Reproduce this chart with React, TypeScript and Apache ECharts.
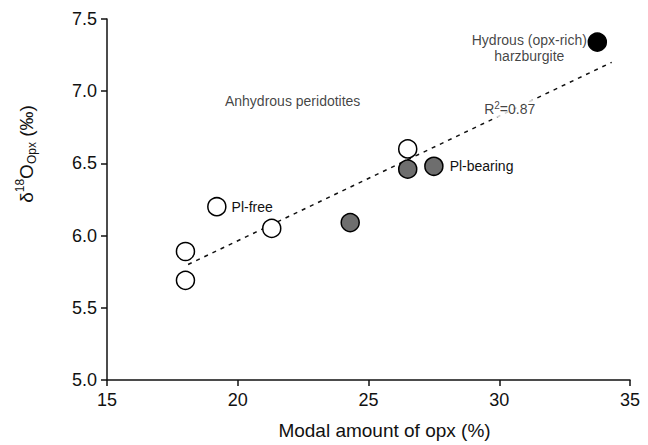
import React, { useEffect, useRef } from "react";
import * as echarts from "echarts";

const plFree: number[][] = [[18, 5.69], [18, 5.89], [19.2, 6.2], [21.3, 6.05], [26.5, 6.6]];
const plBearing: number[][] = [[24.3, 6.09], [26.5, 6.46], [27.5, 6.48]];
const hydrous: number[][] = [[33.75, 7.34]];
const trend: number[][] = [[18.1, 5.8], [34.3, 7.2]];
const notes = [
  { name: "Anhydrous peridotites", value: [22.1, 6.93] },
  { name: "R{sup|2}=0.87", value: [30.4, 6.88], masked: true },
  { name: "Hydrous (opx-rich)\nharzburgite", value: [31.15, 7.3] },
];
const xRange = { min: 15, max: 35, interval: 5 };
const yRange = { min: 5, max: 7.5, interval: 0.5 };
const yTitle = "δ{sup|18}O{sub|Opx} (‰)";

const FONT = "'Liberation Sans', Arial, sans-serif";

export default function App() {
  const ref = useRef<HTMLDivElement>(null);
  useEffect(() => {
    if (!ref.current) return;
    const chart = echarts.init(ref.current, null, { renderer: "svg" });
    const circle = (fill: string) => ({
      color: fill,
      borderColor: "#000",
      borderWidth: 1.5,
      opacity: 1,
    });
    chart.setOption({
      animation: false,
      textStyle: { fontFamily: FONT, color: "#111" },
      grid: { left: 99, right: 18, top: 11, bottom: 60 },
      graphic: [
        {
          type: "text",
          x: 18,
          y: 146,
          rotation: Math.PI / 2,
          style: {
            text: yTitle,
            fill: "#111",
            font: `19px ${FONT}`,
            align: "center",
            verticalAlign: "middle",
            lineHeight: 24,
            rich: {
              sup: { fontSize: 12, verticalAlign: "top", lineHeight: 24, fontFamily: FONT, fill: "#111" },
              sub: { fontSize: 12, verticalAlign: "bottom", lineHeight: 24, fontFamily: FONT, fill: "#111" },
            },
          },
        },
      ],
      xAxis: {
        type: "value",
        ...xRange,
        name: "Modal amount of opx (%)",
        nameLocation: "middle",
        nameGap: 41,
        nameTextStyle: { fontSize: 19, color: "#111", fontFamily: FONT, padding: [0, 0, 0, 32] },
        axisLine: { show: true, onZero: false, lineStyle: { color: "#111", width: 1.5 } },
        axisTick: { show: true, length: 6, lineStyle: { color: "#111", width: 1.5 } },
        axisLabel: { fontSize: 18, color: "#111", margin: 11, fontFamily: FONT },
        splitLine: { show: false },
      },
      yAxis: {
        type: "value",
        ...yRange,
        axisLine: { show: true, onZero: false, lineStyle: { color: "#111", width: 1.5 } },
        axisTick: { show: true, length: 6, lineStyle: { color: "#111", width: 1.5 } },
        axisLabel: {
          fontSize: 18,
          color: "#111",
          margin: 10,
          fontFamily: FONT,
          formatter: (v: number) => v.toFixed(1),
        },
        splitLine: { show: false },
      },
      series: [
        {
          type: "line",
          data: trend,
          symbol: "none",
          z: 1,
          lineStyle: { color: "#111", width: 1.5, type: [4, 5] },
        },
        {
          type: "scatter",
          name: "Pl-free",
          data: plFree.map((d, i) => ({
            value: d,
            label: i === 2 ? { show: true, formatter: "Pl-free" } : { show: false },
          })),
          symbol: "circle",
          symbolSize: 18,
          z: 3,
          itemStyle: circle("#fff"),
          label: { position: "right", distance: 5, fontSize: 14, color: "#111", fontFamily: FONT },
        },
        {
          type: "scatter",
          name: "Pl-bearing",
          data: plBearing.map((d, i) => ({
            value: d,
            label: i === plBearing.length - 1 ? { show: true, formatter: "Pl-bearing" } : { show: false },
          })),
          symbol: "circle",
          symbolSize: 18,
          z: 3,
          itemStyle: circle("#6e6e6e"),
          label: { position: "right", distance: 6, fontSize: 14, color: "#111", fontFamily: FONT },
        },
        {
          type: "scatter",
          name: "Hydrous",
          data: hydrous,
          symbol: "circle",
          symbolSize: 18,
          z: 3,
          itemStyle: circle("#000"),
        },
        {
          type: "scatter",
          name: "notes",
          data: notes.map((n) => ({
            name: n.name,
            value: n.value,
            label: n.masked ? { backgroundColor: "#fff", padding: [1, 3] } : {},
          })),
          symbolSize: 0,
          z: 4,
          silent: true,
          label: {
            show: true,
            position: "inside",
            formatter: (p: any) => p.name,
            fontSize: 14,
            lineHeight: 16,
            align: "center",
            color: "#111",
            fontFamily: FONT,
            rich: {
              sup: { fontSize: 10, verticalAlign: "top", lineHeight: 16, color: "#111", fontFamily: FONT },
            },
          },
        },
      ],
    });
    return () => chart.dispose();
  }, []);
  return <div ref={ref} style={{ width: 640, height: 437 }} />;
}
